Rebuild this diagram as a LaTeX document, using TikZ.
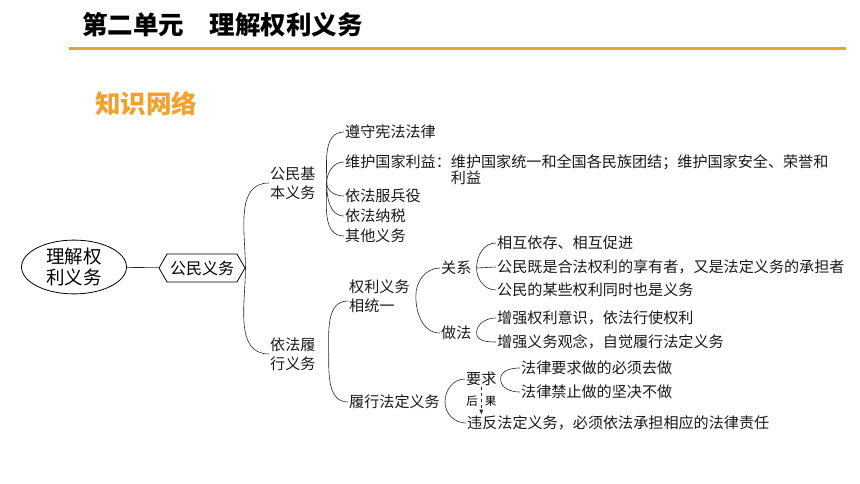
\documentclass[tikz,border=0pt]{standalone}
\usepackage{fontspec}
\setmainfont{Noto Sans CJK SC}
\usepackage{xcolor}
\usetikzlibrary{shapes.geometric,shapes.symbols,calc,positioning,arrows.meta}
\definecolor{headorange}{HTML}{F0A22E}

\begin{document}
\begin{tikzpicture}[x=1pt,y=-1pt, link/.style={semithick,black!85}, node distance=2cm]
	\tikzset{item/.style={anchor=west,inner sep=1pt,font=\fontsize{15.1}{16}\selectfont,text=black!90}}
	\tikzset{topic/.style={item,align=left,font=\fontsize{15.1}{19}\selectfont}}
	\useasboundingbox (0,0) rectangle (860,484);

	% Heading
	\node[anchor=west, inner sep=0pt, font=\fontsize{25.5}{28}\selectfont\bfseries] (head) at (82,25) {第二单元　理解权利义务};
	\draw[headorange, line width=3pt] (69,49) -- (846,49);
	\node[anchor=west, inner sep=0pt, text=headorange, font=\fontsize{25.5}{28}\selectfont\bfseries] (net) at (95,104) {知识网络};

	% Root
	\node[ellipse, draw, thick, inner sep=0pt, minimum width=105pt, minimum height=52pt, align=center, font=\fontsize{18.5}{21}\selectfont] (root) at (74,267) {理解权\\利义务};

	\node[signal, signal to=west and east, signal pointer angle=120, draw, thick, inner sep=2pt, minimum width=86pt, minimum height=28pt, font=\fontsize{16}{18}\selectfont] (gmyw) at (202,268) {公民义务};

	\draw[link] (root) -- (gmyw);

	% Branches
	\node[topic] (jbyw) at (269,183) {公民基\\本义务};
	\node[topic] (lxyw) at (269,354) {依法履\\行义务};

	\draw[link] (gmyw.east) to[out=90,in=180] (jbyw.west);
	\draw[link] (gmyw.east) to[out=-90,in=180] (lxyw.west);

	% Basic duties
	\coordinate (fa) at ($(jbyw.east)+(10,0)$);
	\node[item] (zs) at (344,132) {遵守宪法法律};
	\node[item, anchor=north west, align=left] (wh) at (344,153) {维护国家利益：维护国家统一和全国各民族团结；维护国家安全、荣誉和\\\hspace*{7em}利益};
	\node[item] (by) at (344,196) {依法服兵役};
	\node[item] (ns) at (344,216) {依法纳税};
	\node[item] (qt) at (344,236) {其他义务};

	\draw[link] (fa) to[out=90,in=180] (zs.west);
	\draw[link] (fa) to[out=90,in=180] ([yshift=-9pt]wh.north west);
	\draw[link] (fa) to[out=-90,in=180] (by.west);
	\draw[link] (fa) to[out=-90,in=180] (ns.west);
	\draw[link] (fa) to[out=-90,in=180] (qt.west);

	% Fulfil duties
	\coordinate (fb) at ($(lxyw.east)+(12,0)$);
	\node[topic] (qlxt) at (348,296) {权利义务\\相统一};
	\node[item] (lfyw) at (348,402) {履行法定义务};

	\draw[link] (fb) to[out=90,in=180] ([yshift=-5pt]qlxt.west);
	\draw[link] (fb) to[out=-90,in=180] (lfyw.west);

	% Unity
	\coordinate (fc) at ($(qlxt.east)+(5,0)$);
	\node[item] (gx) at (440,268) {关系};
	\node[item] (zf) at (440,333) {做法};

	\draw[link] (fc) to[out=90,in=180] (gx.west);
	\draw[link] (fc) to[out=-90,in=180] (zf.west);

	\coordinate (fd) at ($(gx.east)+(4,0)$);
	\node[item] (xh) at (496,243) {相互依存、相互促进};
	\node[item] (jsh) at (496,267) {公民既是合法权利的享有者，又是法定义务的承担者};
	\node[item] (mx) at (496,290) {公民的某些权利同时也是义务};

	\draw[link] (fd) to[out=90,in=180] (xh.west);
	\draw[link] (fd) -- (jsh.west);
	\draw[link] (fd) to[out=-90,in=180] (mx.west);

	\coordinate (fe) at ($(zf.east)+(4,0)$);
	\node[item] (qlys) at (496,318) {增强权利意识，依法行使权利};
	\node[item] (ywgn) at (496,342) {增强义务观念，自觉履行法定义务};

	\draw[link] (fe) to[out=90,in=180] (qlys.west);
	\draw[link] (fe) to[out=-90,in=180] (ywgn.west);

	% Requirements
	\coordinate (ff) at ($(lfyw.east)+(4,0)$);
	\node[item] (yq) at (465,379) {要求};
	\node[item] (wf) at (466,423) {违反法定义务，必须依法承担相应的法律责任};

	\draw[link] (ff) to[out=90,in=180] (yq.west);
	\draw[link] (ff) to[out=-90,in=180] (wf.west);

	\coordinate (fg) at ($(yq.east)+(3,0)$);
	\node[item] (qz) at (520,368) {法律要求做的必须去做};
	\node[item] (jj) at (520,392) {法律禁止做的坚决不做};

	\draw[link] (fg) to[out=90,in=180] (qz.west);
	\draw[link] (fg) to[out=-90,in=180] (jj.west);

	% Consequence
	\node[inner sep=0pt, font=\fontsize{11.5}{13}\selectfont] (hg) at (yq.south |- 0,401) {后\hspace{7pt}果};
	\draw[link, dashed, -{Latex[length=5pt,width=4pt]}] (yq.south) -- (yq.south |- wf.north);

\end{tikzpicture}
\end{document}
